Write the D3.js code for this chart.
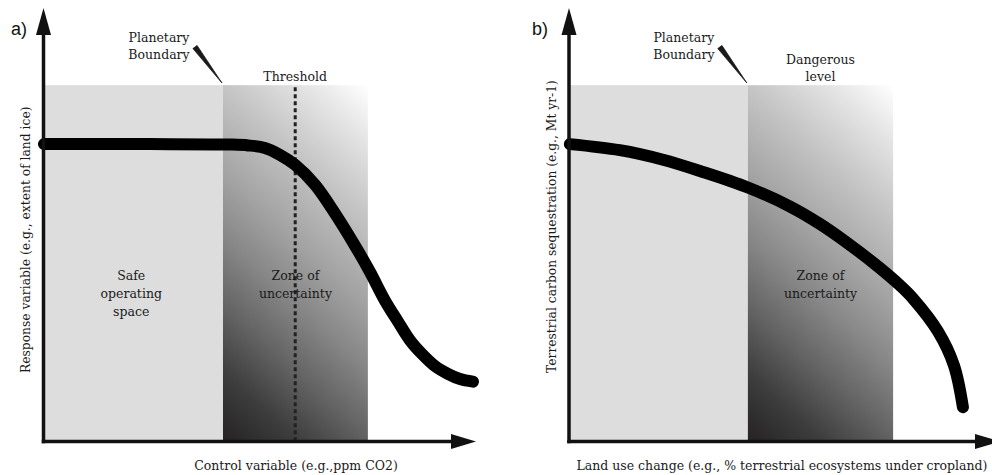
<!DOCTYPE html>
<html><head><meta charset="utf-8">
<script src="https://cdn.jsdelivr.net/npm/d3@7"></script>
<style>body{margin:0;background:#fff}svg{display:block}</style>
</head><body><svg id="c" width="992" height="475"></svg>
<script>
// ---- data (abstract units 0..100 on both axes) ----
const curveAx = [0.1, 24.6, 43.1, 47.3, 51.2, 54.7, 58.2, 62.8, 67.4, 72.0, 75.5, 78.9, 82.0, 84.7, 87.5, 90.5, 93.5, 96.3, 99.3];
const curveAy = [68.6, 68.6, 68.5, 68.3, 67.7, 66.1, 63.8, 59.2, 52.6, 45.2, 39.1, 32.6, 27.6, 23.4, 20.2, 17.4, 15.6, 14.4, 13.8];
const curveBx = [0.2, 11.8, 21.8, 30.4, 41.5, 51.3, 58.2, 64.3, 71.9, 76.8, 79.8, 85.6, 89.3, 91.4];
const curveBy = [68.6, 67.2, 65.0, 62.4, 58.6, 54.2, 50.2, 46.0, 40.2, 36.0, 33.0, 25.4, 17.6, 7.9];
const boundaries = [41.5, 41.5];      // planetary boundary position
const zoneEnds   = [75.0, 75.2];      // end of zone of uncertainty
const shadeTop   = 82.2;
const thresholdA = 58.2;
const panelLetters = ["a)", "b)"];
const xLabels = ["Control variable (e.g.,ppm CO2)", "Land use change (e.g., % terrestrial ecosystems under cropland)"];
const yLabels = ["Response variable (e.g., extent of land ice)", "Terrestrial carbon sequestration (e.g., Mt yr-1)"];
const boundaryLabel = ["Planetary", "Boundary"];
const thresholdLabel = "Threshold";
const dangerLabel = ["Dangerous", "level"];
const safeLabel = ["Safe", "operating", "space"];
const zoneLabel = ["Zone of", "uncertainty"];

const svg = d3.select("#c");
const defs = svg.append("defs");
const serif = "'DejaVu Serif', serif";
const txtCol = "#1a1a1a";

const panels = [
  {xs: d3.scaleLinear().domain([0,100]).range([43.5, 476]), xsCurve: curveAx, ysCurve: curveAy, letterX: 11, ylabX: 30, xlabX: 296},
  {xs: d3.scaleLinear().domain([0,100]).range([569, 1000]), xsCurve: curveBx, ysCurve: curveBy, letterX: 532, ylabX: 556, xlabX: 782}
];
const ys = d3.scaleLinear().domain([0,100]).range([441.5, 8]);

const gradStops = [[0,"#242222"],[0.14,"#3e3d3d"],[0.28,"#646464"],[0.42,"#878787"],[0.55,"#a3a3a3"],[0.72,"#c3c3c3"],[0.88,"#e4e4e4"],[1,"#ffffff"]];
const gDir = [0.672, -0.741];

panels.forEach((p, i) => {
  const xs = p.xs;
  const g = svg.append("g");
  const x0 = xs(0), xb = xs(boundaries[i]), xz = xs(zoneEnds[i]);
  const yT = ys(shadeTop), yB = ys(0);

  // diagonal gradient from bottom-left (dark) to top-right (white)
  const gid = "grad" + i;
  const L = (xz - xb) * gDir[0] + (yT - yB) * gDir[1];
  const lg = defs.append("linearGradient").attr("id", gid).attr("gradientUnits", "userSpaceOnUse")
    .attr("x1", xb).attr("y1", yB).attr("x2", xb + L * gDir[0]).attr("y2", yB + L * gDir[1]);
  gradStops.forEach(s => lg.append("stop").attr("offset", s[0]).attr("stop-color", s[1]));

  g.append("rect").attr("x", x0).attr("y", yT).attr("width", xb - x0).attr("height", yB - yT).attr("fill", "#dddddd");
  g.append("rect").attr("x", xb).attr("y", yT).attr("width", xz - xb).attr("height", yB - yT).attr("fill", `url(#${gid})`);

  // threshold dashed line (panel a)
  if (i === 0) {
    g.append("line").attr("x1", xs(thresholdA)).attr("x2", xs(thresholdA)).attr("y1", yT + 2).attr("y2", yB)
      .attr("stroke", "#222").attr("stroke-width", 3).attr("stroke-dasharray", "4,3");
  }

  // region labels
  const lab = (lines, cx, y0, lh) => {
    const t = g.append("text").attr("font-family", serif).attr("font-size", 12.5).attr("fill", txtCol).attr("text-anchor", "middle");
    lines.forEach((l, k) => t.append("tspan").attr("x", cx).attr("y", y0 + k * lh).text(l));
  };
  if (i === 0) lab(safeLabel, (x0 + xb) / 2 - 2, 280, 18);
  lab(zoneLabel, (xb + xz) / 2, 280, 18);
  lab(boundaryLabel, xb - 64, 42, 17);
  if (i === 0) lab([thresholdLabel], xs(thresholdA), 81, 17);
  else lab(dangerLabel, (xb + xz) / 2, 64, 17);

  // pointer (tapered stroke)
  const sx = xb - 28, sy = 47, ex = xb - 1, ey = 83;
  const len = Math.hypot(ex - sx, ey - sy), nx = -(ey - sy) / len * 2.6, ny = (ex - sx) / len * 2.6;
  g.append("path").attr("d", `M${sx+nx},${sy+ny} L${ex},${ey} L${sx-nx},${sy-ny} Z`).attr("fill", "#1a1a1a")
    .attr("stroke", "#1a1a1a").attr("stroke-width", 0.8).attr("stroke-linejoin", "round");

  // curve
  const pts = p.xsCurve.map((x, k) => [x, p.ysCurve[k]]);
  g.append("path").datum(pts)
    .attr("d", d3.line().x(d => xs(d[0])).y(d => ys(d[1])).curve(d3.curveCatmullRom.alpha(0.5)))
    .attr("fill", "none").attr("stroke", "#000").attr("stroke-width", 12).attr("stroke-linecap", "round");

  // axes
  const ax = g.append("g").attr("stroke", "#111").attr("fill", "#111");
  ax.append("line").attr("x1", x0).attr("x2", x0).attr("y1", yB + 1.75).attr("y2", ys(95)).attr("stroke-width", 3.5);
  ax.append("line").attr("x1", x0 - 1.75).attr("x2", xs(95)).attr("y1", yB).attr("y2", yB).attr("stroke-width", 3.5);
  ax.append("path").attr("stroke", "none")
    .attr("d", `M${x0},${ys(100)} L${x0 + 7.5},${ys(100) + 27} L${x0 - 7.5},${ys(100) + 27} Z`);
  ax.append("path").attr("stroke", "none")
    .attr("d", `M${xs(100)},${yB} L${xs(100) - 25},${yB - 7.5} L${xs(100) - 25},${yB + 7.5} Z`);

  // labels
  g.append("text").attr("x", p.letterX).attr("y", 35).attr("font-family", "'Liberation Sans', Arial, sans-serif")
    .attr("font-size", 18).attr("fill", "#111").text(panelLetters[i]);
  g.append("text").attr("x", p.xlabX).attr("y", 470).attr("text-anchor", "middle").attr("font-family", serif)
    .attr("font-size", 12.5).attr("fill", txtCol).text(xLabels[i]);
  g.append("text").attr("transform", `translate(${p.ylabX},373) rotate(-90)`).attr("text-anchor", "start")
    .attr("font-family", serif).attr("font-size", 12.3).attr("fill", txtCol).text(yLabels[i]);
});
</script></body></html>
